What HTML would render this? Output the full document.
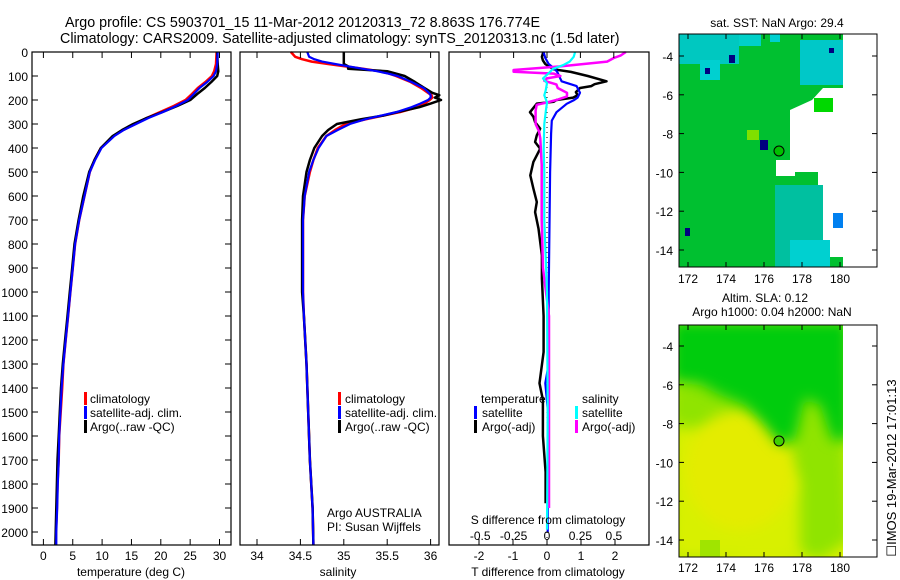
<!DOCTYPE html>
<html><head><meta charset="utf-8"><style>
html,body{margin:0;padding:0;background:#fff;}
svg{display:block;font-family:"Liberation Sans",sans-serif;}
</style></head><body>
<svg id="fig" width="900" height="580" viewBox="0 0 900 580" xmlns="http://www.w3.org/2000/svg">
<defs>
<filter id="blur8" x="-20%" y="-20%" width="140%" height="140%"><feGaussianBlur stdDeviation="7"/></filter>
<clipPath id="clipSla"><rect x="679" y="325" width="164" height="232"/></clipPath>
</defs>
<text x="65" y="27" font-size="14.3">Argo profile: CS 5903701_15 11-Mar-2012 20120313_72 8.863S 176.774E</text>
<text x="60" y="43" font-size="14.3">Climatology: CARS2009. Satellite-adjusted climatology: synTS_20120313.nc (1.5d later)</text>

<!-- SST map -->
<g>
<text x="777" y="27" font-size="12" text-anchor="middle">sat. SST: NaN Argo: 29.4</text>
<polygon fill="#00c030" points="679,34 843,34 843,88 823,88 812,100 790,110 790,160 776,160 776,176 795,176 795,172 818,172 818,185 813,185 813,213 823,213 823,240 818,240 818,257 843,257 843,267 679,267"/>
<rect x="679" y="34" width="60" height="30" fill="#00c8c0"/>
<rect x="700" y="60" width="20" height="20" fill="#00d0d0"/>
<rect x="739" y="34" width="22" height="12" fill="#00d0c8"/>
<rect x="770" y="34" width="10" height="8" fill="#00d0d0"/>
<rect x="800" y="40" width="43" height="45" fill="#00c8c8"/>
<rect x="775" y="185" width="48" height="82" fill="#00c0a0"/>
<rect x="790" y="240" width="40" height="27" fill="#00d0d0"/>
<rect x="814" y="98" width="19" height="14" fill="#00d800"/>
<rect x="833" y="213" width="10" height="15" fill="#0080f0"/>
<rect x="747" y="130" width="12" height="10" fill="#80e000"/>
<rect x="760" y="140" width="8" height="10" fill="#000080"/>
<rect x="729" y="55" width="6" height="8" fill="#000080"/>
<rect x="705" y="68" width="5" height="6" fill="#000080"/>
<rect x="829" y="48" width="5" height="5" fill="#000080"/>
<rect x="685" y="228" width="5" height="8" fill="#000080"/>
<circle cx="779" cy="151" r="5" fill="#00c000" stroke="#000" stroke-width="1"/>
<rect x="679" y="34" width="198" height="233" fill="none" stroke="#000" stroke-width="1"/>
</g>

<!-- SLA map -->
<g>
<text x="765" y="302" font-size="12" text-anchor="middle">Altim. SLA: 0.12</text>
<text x="772" y="316" font-size="12" text-anchor="middle">Argo h1000: 0.04 h2000: NaN</text>
<g clip-path="url(#clipSla)">
<rect x="679" y="325" width="164" height="232" fill="#dcf000"/>
<polygon filter="url(#blur8)" fill="#90e400" points="670,385 843,370 850,540 820,560 760,540 700,560 670,560"/>
<polygon filter="url(#blur8)" fill="#d8f000" points="670,425 760,440 800,480 800,560 670,560"/>
<ellipse filter="url(#blur8)" cx="740" cy="470" rx="55" ry="60" fill="#e4ec00"/>
<polygon filter="url(#blur8)" fill="#00cc10" points="670,320 850,320 850,440 832,440 820,405 805,398 795,440 780,445 760,420 745,405 720,395 700,385 670,382"/>
<rect x="700" y="540" width="20" height="17" fill="#a0e400"/>
</g>
<circle cx="779" cy="441" r="5" fill="#40d000" stroke="#000" stroke-width="1"/>
<rect x="679" y="325" width="198" height="232" fill="none" stroke="#000" stroke-width="1"/>
</g>
<text transform="translate(896,468) rotate(-90)" font-size="13" text-anchor="middle">☐IMOS 19-Mar-2012 17:01:13</text>
<g id="layer"></g>
</svg>
<script>
// ---- data ----
const tDepth=[0,50,80,100,125,150,175,200,225,250,275,300,325,350,400,450,500,600,700,800,900,1000,1100,1200,1300,1400,1500,1600,1700,1800,1900,2000,2054];
const tClim=[29.5,29.4,29.1,28.7,27.6,26.3,25.3,24.2,22.2,19.9,17.6,15.6,13.6,12.0,9.8,8.7,7.9,7.0,6.1,5.4,5.0,4.6,4.2,3.8,3.4,3.2,2.95,2.7,2.6,2.4,2.3,2.15,2.1];
const tArgo=[29.6,29.7,29.8,29.6,28.6,27.5,26.2,25.0,22.8,20.3,17.6,15.3,13.4,11.8,9.8,8.7,7.8,6.8,6.0,5.3,4.9,4.5,4.1,3.7,3.3,3.0,2.8,2.6,2.4,2.3,2.2,2.1,2.05];
const tSat=[29.7,29.6,29.4,29.0,27.9,26.6,25.6,24.6,22.6,20.4,17.9,15.8,13.7,12.1,9.9,8.8,7.9,7.0,6.1,5.4,5.0,4.6,4.2,3.8,3.4,3.1,2.9,2.7,2.6,2.45,2.35,2.2,2.2];
const sDepth=[0,20,30,40,50,60,70,80,90,100,125,150,170,180,190,200,215,230,250,265,280,300,325,350,400,450,500,600,700,800,1000,1100,1300,1500,1700,1900,2054];
const sClim=[34.39,34.44,34.52,34.63,34.82,35.02,35.22,35.41,35.52,35.60,35.77,35.89,35.97,36.01,36.02,35.99,35.93,35.85,35.65,35.45,35.26,35.02,34.90,34.80,34.70,34.65,34.61,34.55,34.53,34.53,34.53,34.54,34.57,34.59,34.61,34.64,34.65];
const sArgo=[35.0,35.0,35.0,35.0,35.0,35.05,35.05,35.5,35.6,35.7,35.82,35.93,36.02,36.1,36.05,36.12,36.0,35.87,35.62,35.45,35.2,34.92,34.82,34.75,34.66,34.61,34.57,34.53,34.52,34.52,34.52,34.54,34.57,34.59,34.61,34.64,34.65];
const sSat=[34.58,34.60,34.66,34.75,34.90,35.06,35.22,35.38,35.51,35.62,35.78,35.92,35.98,36.00,36.00,35.97,35.88,35.78,35.61,35.43,35.25,35.07,34.93,34.80,34.71,34.65,34.60,34.55,34.53,34.53,34.53,34.54,34.57,34.59,34.61,34.64,34.65];
const dTArgoDepth=[0,20,35,50,60,72,83,100,122,134,142,150,167,180,190,200,207,215,251,270,292,319,347,375,403,458,514,569,625,667,736,847,944,1100,1250,1380,1450,1600,1750,1880];
const dTArgo=[-0.11,-0.15,-0.12,-0.05,0.05,0.2,0.7,1.2,1.75,1.4,1.3,0.97,0.85,0.9,0.77,0.28,0.2,-0.3,-0.5,-0.4,-0.35,-0.2,-0.3,-0.35,-0.2,-0.4,-0.49,-0.4,-0.3,-0.35,-0.25,-0.15,-0.15,-0.1,-0.1,-0.22,-0.12,-0.12,-0.04,-0.04];
const dTSatDepth=[0,25,50,72,83,122,142,170,190,200,216,251,286,340,500,1000,1300,1380,1500,2000];
const dTSat=[-0.1,-0.05,0.05,0.24,0.3,0.43,0.87,0.97,0.9,0.8,0.58,0.28,0.14,0.12,0.09,0.05,0.05,-0.05,0.03,0.02];
const dSArgoDepth=[0,15,25,40,60,75,82,90,100,110,120,135,150,170,185,200,210,220,244,300,330,360,470,700,900,1100,1500,1900];
const dSArgo=[0.59,0.55,0.5,0.45,0.1,-0.25,-0.25,0.05,0.1,0.0,-0.02,0.07,0.08,0.15,0.15,0.07,0.0,-0.077,-0.085,-0.085,-0.06,-0.05,-0.04,-0.04,-0.03,0.015,0.015,0.015];
const dSSatDepth=[0,20,40,55,70,90,110,130,160,180,210,250,300,400,500,700,1000,1500,1990];
const dSSat=[0.21,0.2,0.17,0.12,0.045,0.01,-0.03,0.0,-0.01,-0.02,0.0,-0.01,-0.02,-0.025,-0.02,-0.02,0.0,0.005,0.0];
const depthTicks=[0,100,200,300,400,500,600,700,800,900,1000,1100,1200,1300,1400,1500,1600,1700,1800,1900,2000];
const tTicks=[0,5,10,15,20,25,30];
const sTicks=[34,34.5,35,35.5,36];
const sTickLabels=["34","34.5","35","35.5","36"];
const dTTicks=[-2,-1,0,1,2];
const dSTicks=[-0.5,-0.25,0,0.25,0.5];
const dSTickLabels=["-0.5","-0.25","0","0.25","0.5"];
const lonTicks=[172,174,176,178,180];
const latTicks=[-4,-6,-8,-10,-12,-14];

// ---- helpers ----
const NS="http://www.w3.org/2000/svg";
const layer=document.getElementById('layer');
function mk(tag,attrs,parent){const e=document.createElementNS(NS,tag);for(const k in attrs)e.setAttribute(k,attrs[k]);(parent||layer).appendChild(e);return e;}
const TOP=52, BOT=545;
const yD=d=>TOP+d*0.24;
const xT=v=>43.4+v*5.87;
const xS=v=>257+(v-34)*86.8;
const xDT=v=>547+v*34;
const xDS=v=>547+v*133.6;
const mapX=lon=>688+(lon-172)*19;
const mapY1=lat=>56+(-4-lat)*19.4;
const mapY2=lat=>346+(-4-lat)*19.4;

function line(depths,vals,xf,color,w,name){
  let d='';
  for(let i=0;i<vals.length;i++){d+=(i?'L':'M')+xf(vals[i]).toFixed(1)+','+yD(depths[i]).toFixed(1);}
  const p=mk('path',{d:d,fill:'none',stroke:color,'stroke-width':w,'stroke-linejoin':'round'});
  
  
}
function frame(x0,x1,name){
  const r=mk('rect',{x:x0,y:TOP,width:x1-x0,height:BOT-TOP,fill:'none',stroke:'#000','stroke-width':1.2});
  
  
}
function txt(x,y,s,anchor,size,name){
  const t=mk('text',{x:x,y:y,'font-size':size||12,'text-anchor':anchor||'start'});
  t.textContent=s;
  
  
  return t;
}
function xticks(vals,labels,xf,top,bottom,labelY,name){
  vals.forEach((v,i)=>{
    const x=xf(v);
    if(top) mk('line',{x1:x,x2:x,y1:TOP,y2:TOP+6,stroke:'#000'});
    if(bottom) mk('line',{x1:x,x2:x,y1:BOT,y2:BOT-6,stroke:'#000'});
    if(labelY) txt(x,labelY,labels[i],'middle',12,name);
  });
}
function legendMark(x,y,color,name){
  const r=mk('rect',{x:x,y:y-11,width:3,height:13,fill:color});
  
  
}

// ---- panel 1: temperature ----
line(tDepth,tClim,xT,'#f00',2.5,'temp-climatology-line');
line(tDepth,tArgo,xT,'#000',2.5,'temp-argo-line');
line(tDepth,tSat,xT,'#00f',2.2,'temp-satellite-line');
frame(32,231,'temperature-panel-frame');
depthTicks.forEach(d=>{
  const y=yD(d);
  mk('line',{x1:32,x2:38,y1:y,y2:y,stroke:'#000'});
  mk('line',{x1:231,x2:225,y1:y,y2:y,stroke:'#000'});
  txt(28,y+5,String(d),'end',12,'depth-tick-label');
});
xticks(tTicks,tTicks.map(String),xT,true,true,560,'temp-tick-label');
txt(131,576,'temperature (deg C)','middle',12,'temp-axis-title');
[['#f00','climatology'],['#00f','satellite-adj. clim.'],['#000','Argo(..raw -QC)']].forEach((e,i)=>{
  legendMark(84,403+i*14,e[0],'temp-legend-mark');
  txt(90,403+i*14,e[1],'start',12,'temp-legend-entry');
});

// ---- panel 2: salinity ----
line(sDepth,sClim,xS,'#f00',2.5,'sal-climatology-line');
line(sDepth,sArgo,xS,'#000',2.5,'sal-argo-line');
line(sDepth,sSat,xS,'#00f',2.2,'sal-satellite-line');
frame(240,439,'salinity-panel-frame');
xticks(sTicks,sTickLabels,xS,true,true,560,'sal-tick-label');
txt(338,576,'salinity','middle',12,'sal-axis-title');
[['#f00','climatology'],['#00f','satellite-adj. clim.'],['#000','Argo(..raw -QC)']].forEach((e,i)=>{
  legendMark(338,403+i*14,e[0],'sal-legend-mark');
  txt(345,403+i*14,e[1],'start',12,'sal-legend-entry');
});
txt(327,517,'Argo AUSTRALIA','start',12,'argo-agency-label');
txt(327,531,'PI: Susan Wijffels','start',12,'pi-label');

// ---- panel 3: differences ----
const zl=mk('line',{x1:547,x2:547,y1:TOP,y2:BOT,stroke:'#000','stroke-dasharray':'1,4'});


line(dTArgoDepth,dTArgo,xDT,'#000',2.5,'tdiff-argo-line');
line(dTSatDepth,dTSat,xDT,'#00f',2.2,'tdiff-satellite-line');
line(dSArgoDepth,dSArgo,xDS,'#f0f',2.5,'sdiff-argo-line');
line(dSSatDepth,dSSat,xDS,'#0ff',2.2,'sdiff-satellite-line');
frame(449,649,'difference-panel-frame');
xticks(dSTicks,dSTickLabels,xDS,true,false,null,'sdiff-tick');
xticks(dTTicks,dTTicks.map(String),xDT,false,true,560,'tdiff-tick-label');
dSTicks.forEach((v,i)=>txt(xDS(v),540,dSTickLabels[i],'middle',12,'sdiff-tick-label'));
txt(548,524,'S difference from climatology','middle',12,'sdiff-axis-title');
txt(548,576,'T difference from climatology','middle',12,'tdiff-axis-title');
txt(481,403,'temperature','start',12,'tdiff-legend-heading');
txt(582,403,'salinity','start',12,'sdiff-legend-heading');
legendMark(474,417,'#00f','tdiff-legend-mark');txt(482,417,'satellite','start',12,'tdiff-legend-entry');
legendMark(474,431,'#000','tdiff-legend-mark');txt(482,431,'Argo(-adj)','start',12,'tdiff-legend-entry');
legendMark(575,417,'#0ff','sdiff-legend-mark');txt(582,417,'satellite','start',12,'sdiff-legend-entry');
legendMark(575,431,'#f0f','sdiff-legend-mark');txt(582,431,'Argo(-adj)','start',12,'sdiff-legend-entry');

// ---- map axes ----
[[34,267,mapY1,283],[325,557,mapY2,572]].forEach(m=>{
  lonTicks.forEach(l=>{
    const x=mapX(l);
    mk('line',{x1:x,x2:x,y1:m[0],y2:m[0]+5,stroke:'#000'});
    mk('line',{x1:x,x2:x,y1:m[1],y2:m[1]-5,stroke:'#000'});
    txt(x,m[3],String(l),'middle',12,'map-lon-tick-label');
  });
  latTicks.forEach(l=>{
    const y=m[2](l);
    mk('line',{x1:679,x2:684,y1:y,y2:y,stroke:'#000'});
    mk('line',{x1:877,x2:872,y1:y,y2:y,stroke:'#000'});
    txt(673,y+5,String(l),'end',12,'map-lat-tick-label');
  });
});
</script>
</body></html>
